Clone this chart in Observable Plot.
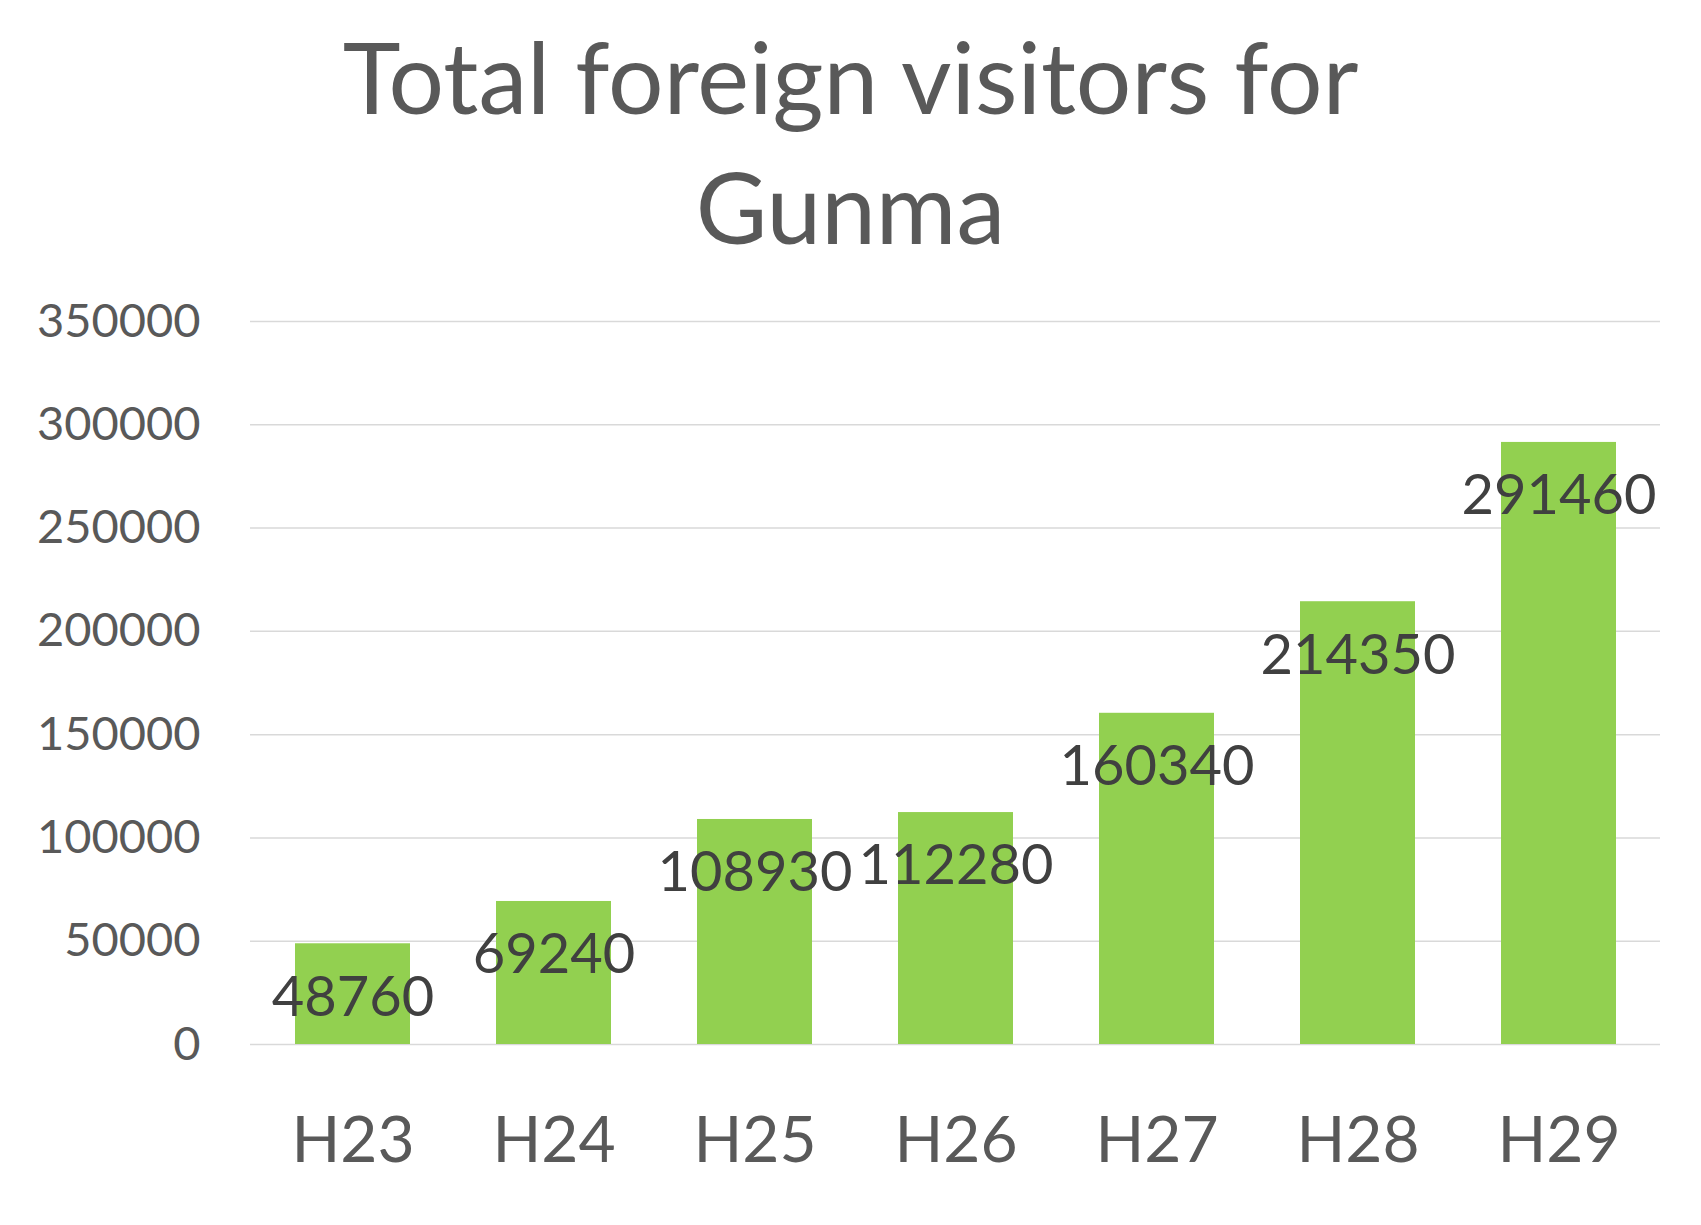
<!DOCTYPE html>
<html>
<head>
<meta charset="utf-8">
<script src="https://cdn.jsdelivr.net/npm/d3@7"></script>
<script src="https://cdn.jsdelivr.net/npm/@observablehq/plot@0.6"></script>
<style>
  html, body { margin: 0; padding: 0; background: #fff; }
  #wrap { width: 1701px; height: 1225px; overflow: hidden; background: #fff; }
  #title {
    box-sizing: border-box; width: 1701px; height: 260px; padding-top: 11px;
    font-family: Lato, sans-serif; font-size: 98px; line-height: 130px;
    color: #595959; text-align: center;
  }
  svg { display: block; }
</style>
</head>
<body>
<div id="wrap">
  <div id="title">Total foreign visitors for<br>Gunma</div>
  <div id="chart"></div>
</div>
<script>
const categories = ["H23", "H24", "H25", "H26", "H27", "H28", "H29"];
const visitors = [48760, 69240, 108930, 112280, 160340, 214350, 291460];
const yTicks = [0, 50000, 100000, 150000, 200000, 250000, 300000, 350000];

const data = categories.map((c, i) => ({year: c, value: visitors[i]}));

const chart = Plot.plot({
  width: 1701,
  height: 965,
  marginTop: 61,
  marginBottom: 181,
  marginLeft: 250,
  marginRight: 41,
  style: {fontFamily: "Lato, sans-serif", background: "white"},
  x: {domain: categories, paddingInner: 0.43, paddingOuter: 0.215, label: null},
  y: {domain: [0, 350000], label: null},
  marks: [
    Plot.gridY(yTicks, {stroke: "#d9d9d9", strokeOpacity: 1, strokeWidth: 1.5}),
    Plot.barY(data, {x: "year", y: "value", fill: "#92d050"}),
    Plot.text(data, {x: "year", y: "value", text: d => String(d.value), dy: 54, fontSize: 56, fill: "#404040"}),
    Plot.axisY(yTicks, {tickSize: 0, tickPadding: 50, fontSize: 47, fill: "#595959", tickFormat: d => String(d), label: null}),
    Plot.axisX({tickSize: 0, tickPadding: 72, fontSize: 64, fill: "#595959", label: null})
  ]
});
document.getElementById("chart").appendChild(chart);
</script>
</body>
</html>
